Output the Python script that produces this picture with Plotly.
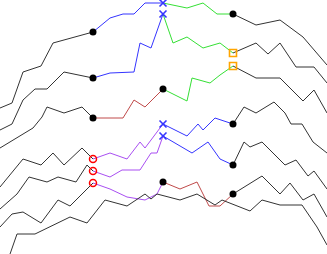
import plotly.graph_objects as go

# ---- data (x position, vertical value; value axis runs top-down) ----
breaks = [93, 163, 233]

a_x = [0, 12, 23, 41, 53, 93, 110, 123, 134, 145, 163, 187, 203, 217, 233, 256, 280, 303, 327]
a_y = [108, 103, 72, 66, 43, 32, 18, 14, 14, 3, 3, 8, 3, 14, 14, 25, 20, 37, 65]

b_x = [0, 12, 23, 35, 47, 64, 93, 110, 134, 140, 151, 163, 173, 187, 203, 220, 233, 256, 268, 280, 296, 314, 327]
b_y = [130, 124, 100, 89, 89, 72, 78, 73, 72, 43, 48, 14, 43, 37, 48, 43, 53, 43, 54, 43, 67, 67, 83]

c_x = [0, 33, 42, 47, 64, 82, 93, 123, 134, 145, 163, 187, 192, 210, 220, 233, 256, 280, 303, 314, 327]
c_y = [148, 128, 117, 107, 113, 107, 118, 118, 100, 107, 89, 101, 78, 83, 75, 66, 78, 78, 101, 90, 113]

d_x = [0, 23, 41, 53, 64, 82, 93, 110, 127, 140, 145, 163, 187, 198, 203, 215, 233, 244, 256, 274, 285, 291, 302, 313, 327]
d_y = [187, 159, 165, 153, 165, 148, 159, 153, 159, 142, 148, 124, 136, 124, 130, 118, 124, 107, 113, 102, 113, 124, 124, 142, 153]

e_x = [0, 17, 29, 47, 58, 76, 87, 93, 110, 122, 140, 151, 157, 163, 192, 208, 220, 233, 244, 250, 262, 285, 296, 308, 314, 327]
e_y = [209, 194, 177, 182, 177, 182, 165, 171, 177, 170, 170, 153, 153, 136, 153, 142, 159, 165, 142, 147, 142, 165, 160, 176, 171, 189]

f_x = [0, 12, 23, 41, 58, 70, 87, 93, 110, 127, 145, 157, 163, 180, 197, 209, 220, 233, 262, 280, 290, 303, 314, 327]
f_y = [227, 214, 212, 223, 200, 206, 189, 183, 189, 197, 200, 194, 182, 189, 182, 206, 206, 194, 176, 194, 183, 200, 194, 217]

g_x = [9, 17, 35, 70, 87, 105, 127, 145, 151, 157, 180, 197, 215, 222, 250, 262, 280, 302, 317, 327]
g_y = [257, 234, 234, 217, 223, 200, 206, 194, 199, 194, 200, 194, 205, 200, 211, 200, 205, 205, 227, 245]

BLACK = "#333333"
BLUE = "#3535ff"
GREEN = "#35e035"
PURPLE = "#a94ff2"
RED = "#c04a4a"

dot = dict(symbol="circle", size=7, color="black", line=dict(width=0))
xm = dict(symbol="x-thin", size=7, color=BLUE, line=dict(width=1.6, color=BLUE))
sq = dict(symbol="square-open", size=7, color="orange", line=dict(width=1.6, color="orange"))
oc = dict(symbol="circle-open", size=7, color="red", line=dict(width=1.5, color="red"))

lines = [
    (a_x, a_y, [BLACK, BLUE, GREEN, BLACK], [dot, xm, dot]),
    (b_x, b_y, [BLACK, BLUE, GREEN, BLACK], [dot, xm, sq]),
    (c_x, c_y, [BLACK, RED, GREEN, BLACK], [dot, dot, sq]),
    (d_x, d_y, [BLACK, PURPLE, BLUE, BLACK], [oc, xm, dot]),
    (e_x, e_y, [BLACK, PURPLE, BLUE, BLACK], [oc, xm, dot]),
    (f_x, f_y, [BLACK, PURPLE, RED, BLACK], [oc, dot, dot]),
    (g_x, g_y, [BLACK], None),
]

fig = go.Figure()
marker_traces = []
for xs, ys, cols, marks in lines:
    if not marks:
        fig.add_trace(go.Scatter(x=xs, y=ys, mode="lines",
                                 line=dict(color=cols[0], width=1),
                                 hoverinfo="skip", showlegend=False))
        continue
    bounds = [xs[0]] + breaks + [xs[-1]]
    for k in range(4):
        lo, hi = bounds[k], bounds[k + 1]
        sx = [x for x in xs if lo <= x <= hi]
        sy = [y for x, y in zip(xs, ys) if lo <= x <= hi]
        fig.add_trace(go.Scatter(x=sx, y=sy, mode="lines",
                                 line=dict(color=cols[k], width=1),
                                 hoverinfo="skip", showlegend=False))
    for bx, m in zip(breaks, marks):
        by = ys[xs.index(bx)]
        marker_traces.append(go.Scatter(x=[bx], y=[by], mode="markers", marker=m,
                                        hoverinfo="skip", showlegend=False,
                                        cliponaxis=False))
for t in marker_traces:
    fig.add_trace(t)

fig.update_layout(
    width=327, height=254,
    margin=dict(l=0, r=0, t=0, b=0),
    paper_bgcolor="white", plot_bgcolor="white",
    xaxis=dict(range=[0, 327], visible=False, showgrid=False, zeroline=False),
    yaxis=dict(range=[254, 0], visible=False, showgrid=False, zeroline=False),
)
fig.write_html("out.html", config={"displayModeBar": False},
               post_script="document.body.style.margin='0';")
